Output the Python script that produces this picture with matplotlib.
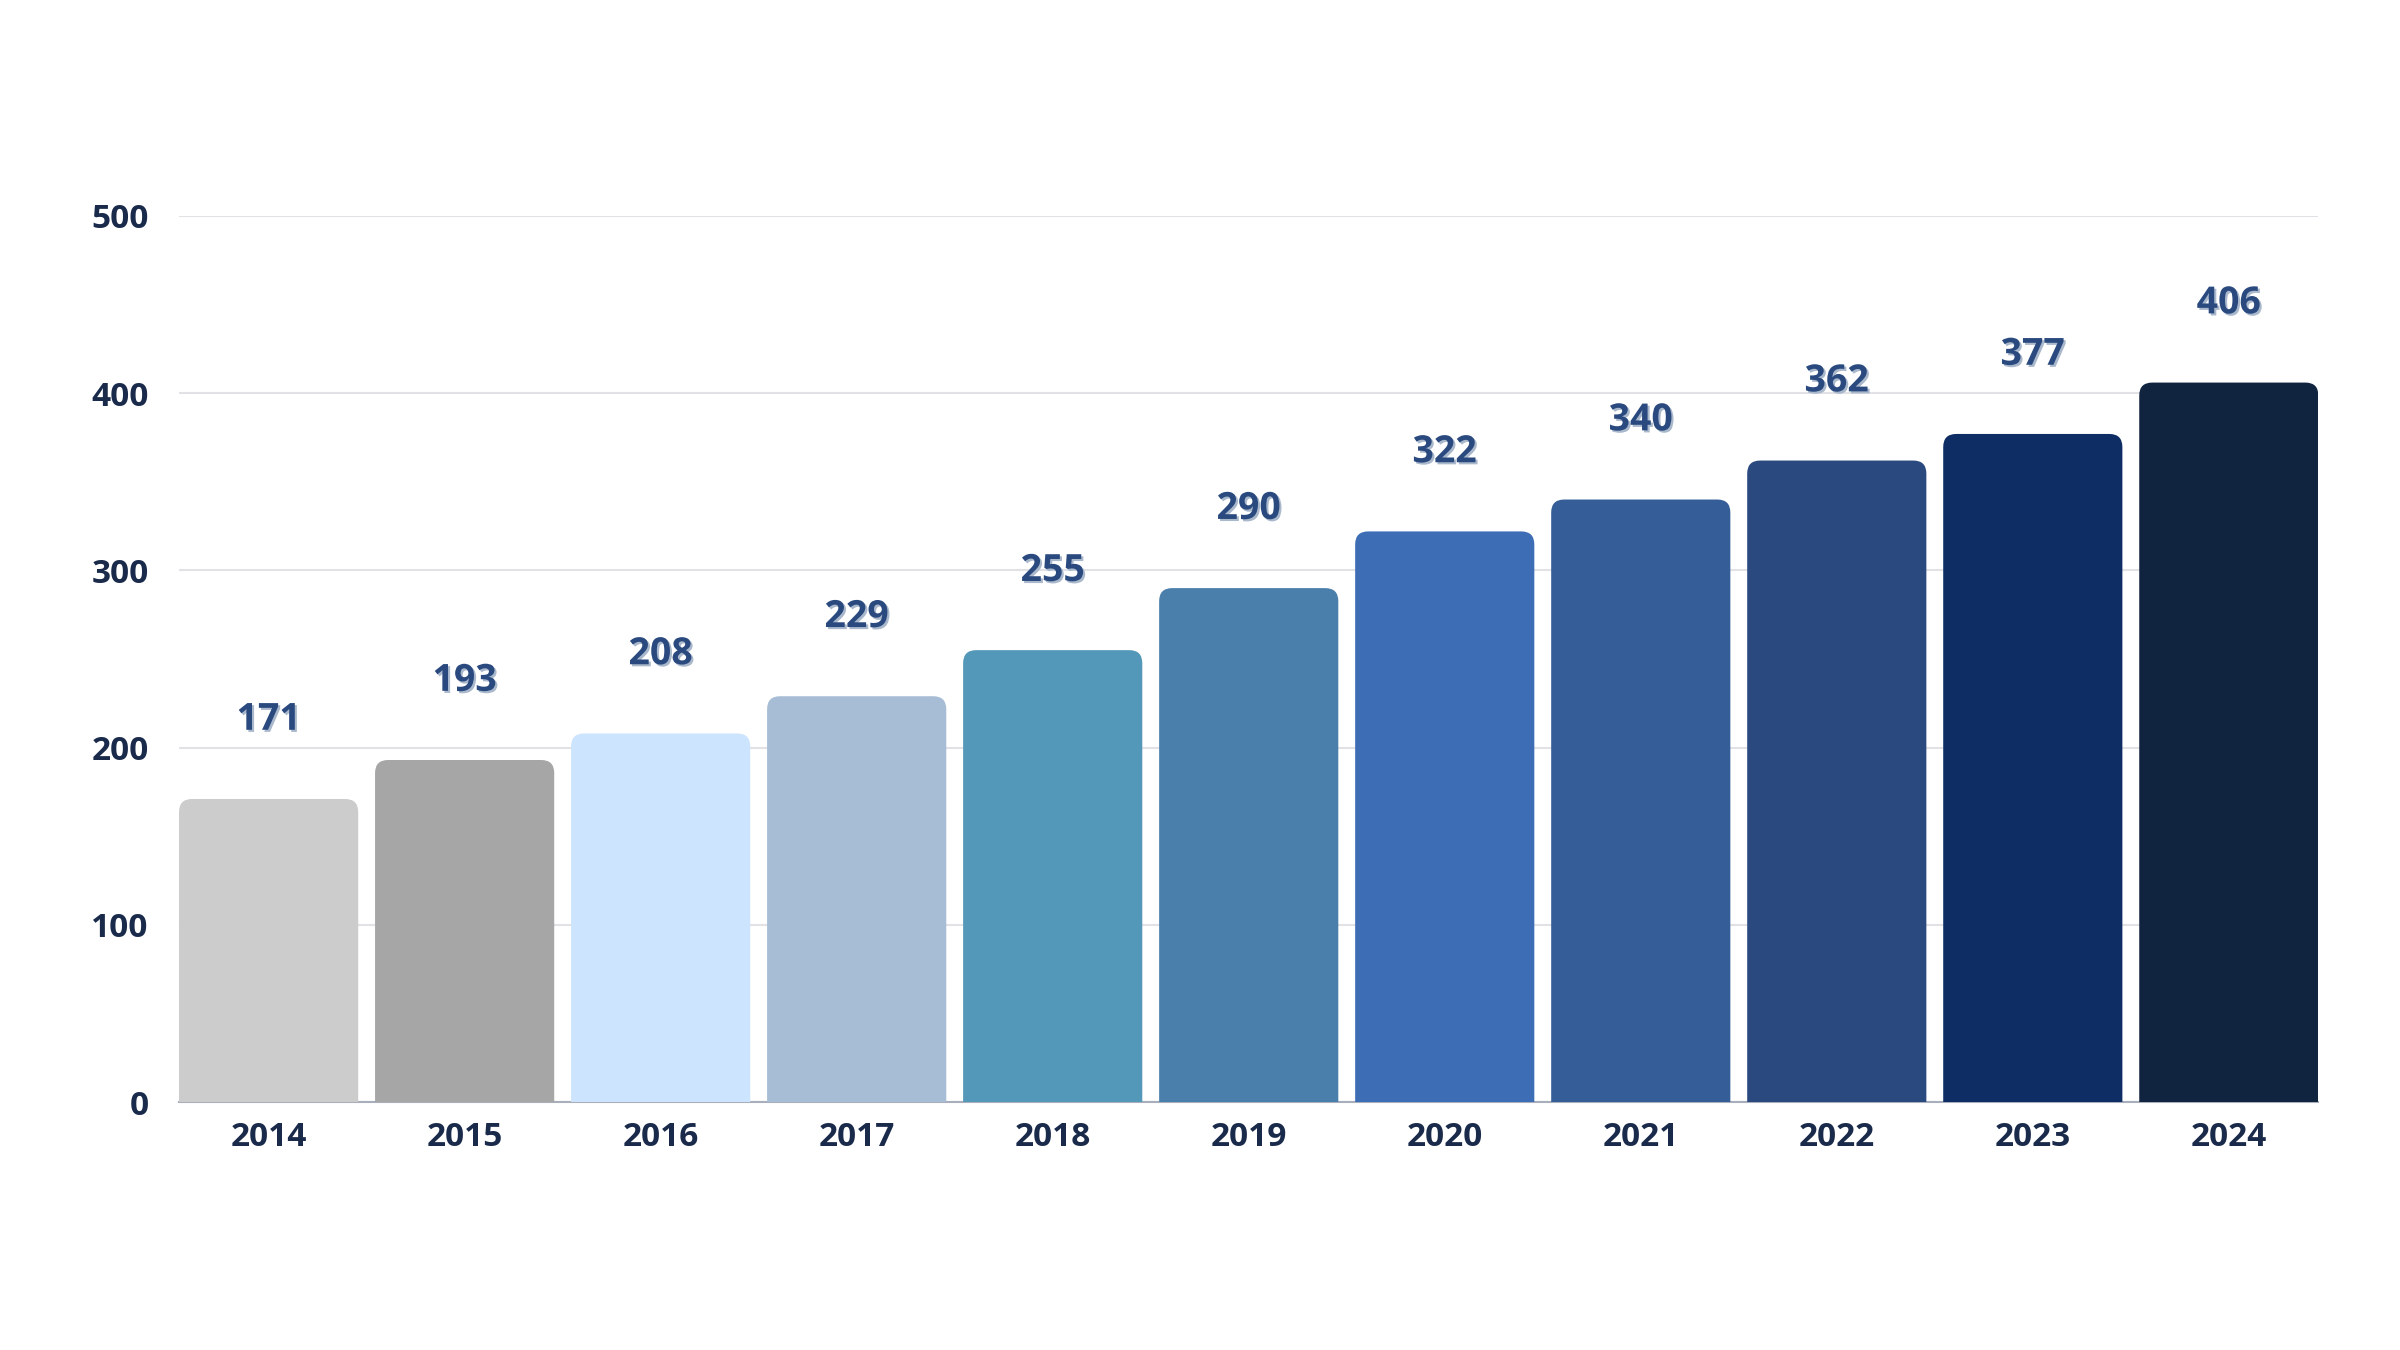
import matplotlib
matplotlib.use("Agg")
import matplotlib.pyplot as plt
import matplotlib.patheffects as pe
from matplotlib.patches import FancyBboxPatch
import numpy as np

years = ["2014", "2015", "2016", "2017", "2018", "2019", "2020", "2021", "2022", "2023", "2024"]
values = [171, 193, 208, 229, 255, 290, 322, 340, 362, 377, 406]
colors = ["#cccccc", "#a6a6a6", "#cce4fd", "#a7bdd5", "#5498b9", "#4a7fab",
          "#3c6db5", "#355d98", "#2a4a7f", "#0d2d64", "#10233f"]
yticks = [0, 100, 200, 300, 400, 500]

plt.rcParams['font.family'] = ['Open Sans', 'DejaVu Sans']

W, H, DPI = 24, 13.5, 100
fig = plt.figure(figsize=(W, H), dpi=DPI)
ax = fig.add_axes([0.0746, 0.1837, 0.966 - 0.0746, 0.84 - 0.1837])

bar_w = 0.914
x = np.arange(len(years))
ax.set_xlim(-bar_w / 2, len(years) - 1 + bar_w / 2)
ax.set_ylim(0, 500)

# pixels per data unit, so the corner rounding looks circular
pos = ax.get_position()
px_x = pos.width * W * DPI / (ax.get_xlim()[1] - ax.get_xlim()[0])
px_y = pos.height * H * DPI / 500
radius_px = 13
rx = radius_px / px_x
aspect = px_x / px_y
ry = rx * aspect

for xi, v, c in zip(x, values, colors):
    left = xi - bar_w / 2
    # box starts below zero so its lower rounded corners get clipped away
    box = FancyBboxPatch((left, -2 * ry), bar_w, v + 2 * ry,
                         boxstyle=f"round,pad=0,rounding_size={rx}",
                         mutation_aspect=aspect, fc=c, ec="none", zorder=3)
    ax.add_patch(box)
    ax.annotate(str(v), (xi, v), xytext=(0, 57), textcoords="offset points",
                ha="center", va="center", fontsize=27, fontweight="bold",
                color="#2a4a7f", zorder=4,
                path_effects=[pe.SimplePatchShadow(offset=(1.5, -1.5),
                                                   shadow_rgbFace="#aab8cc", alpha=1),
                              pe.Normal()])

ax.set_yticks(yticks)
ax.set_xticks(x)
ax.set_xticklabels(years)
ax.grid(axis="y", color="#e2e2e6", linewidth=1.5, zorder=0)
for s in ["top", "right", "left"]:
    ax.spines[s].set_visible(False)
ax.spines["bottom"].set_color("#a8aebb")
ax.spines["bottom"].set_linewidth(1.5)
ax.spines["bottom"].set_zorder(2)
ax.tick_params(axis="both", length=0, labelsize=24, labelcolor="#1a2a4a")
ax.tick_params(axis="x", pad=14)
ax.tick_params(axis="y", pad=22)
for lab in ax.get_xticklabels() + ax.get_yticklabels():
    lab.set_fontweight("bold")

fig.savefig("out.png", dpi=DPI, facecolor="white")
